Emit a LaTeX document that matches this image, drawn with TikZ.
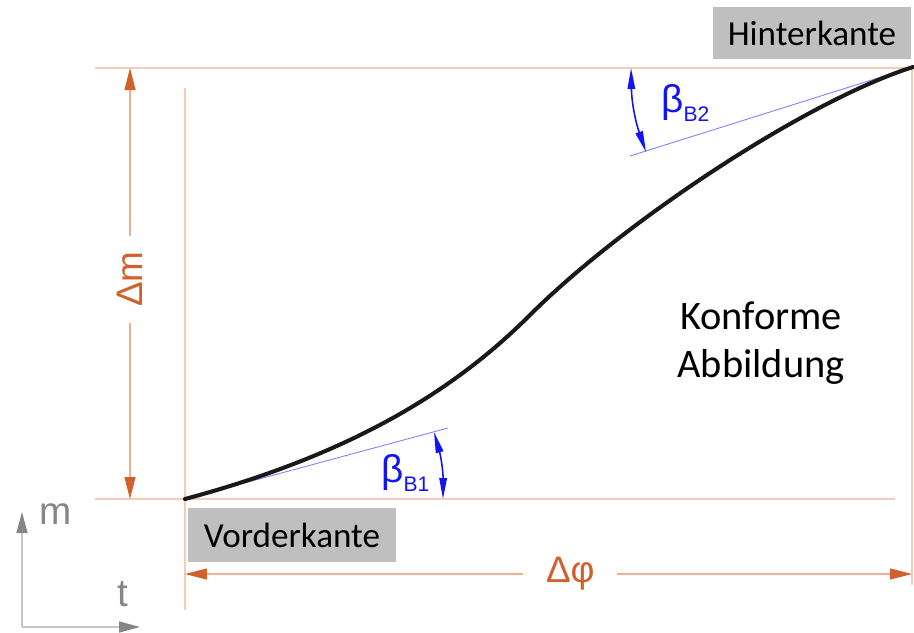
\documentclass[tikz,border=0pt]{standalone}
\usepackage{fontspec}
\usepackage{tikz}
\usetikzlibrary{arrows.meta}

\newfontfamily\calibrifont{Carlito}
\newfontfamily\arialfont{Liberation Sans}

\definecolor{dimorange}{HTML}{D2602A}
\definecolor{dimlight}{HTML}{EDB090}
\definecolor{peach}{HTML}{F4CDB6}
\definecolor{angleblue}{HTML}{1414F0}
\definecolor{tangblue}{HTML}{8080FF}
\definecolor{axisgray}{HTML}{C6C6C6}
\definecolor{tipgray}{HTML}{868686}
\definecolor{boxgray}{HTML}{BFBFBF}

\tikzset{
  helpline/.style={peach, line width=0.8pt},
  dimline/.style={dimlight, line width=0.6pt,
    {Triangle[length=0.44cm, width=0.22cm, color=dimorange]}-{Triangle[length=0.44cm, width=0.22cm, color=dimorange]}},
  dimlabel/.style={fill=white, text=dimorange, font=\arialfont\fontsize{21}{24}\selectfont},
  axisline/.style={axisgray, line width=0.9pt, -{Triangle[length=0.42cm, width=0.22cm, color=tipgray]}},
  axislabel/.style={text=tipgray, font=\arialfont\fontsize{22}{26}\selectfont},
  tangent/.style={tangblue, line width=0.5pt},
  anglearrow/.style={angleblue, line width=0.9pt,
    {Triangle[length=0.42cm, width=0.15cm]}-{Triangle[length=0.42cm, width=0.15cm]}},
  anglelabel/.style={text=angleblue, inner sep=0pt, anchor=base west},
  edgebox/.style={fill=boxgray, font=\calibrifont\fontsize{20}{24}\selectfont},
  profile/.style={black!90, line width=2.3pt, line cap=round}
}

\begin{document}
\begin{tikzpicture}[x=0.02cm, y=-0.02cm]
  \useasboundingbox (0,0) rectangle (914,633);

  % Hilfslinien
  \coordinate (tl) at (95,68);
  \coordinate (tr) at (914,68);
  \coordinate (bl) at (95,499);
  \coordinate (br) at (895,499);
  \coordinate (lt) at (185,88);
  \coordinate (lb) at (185,610);
  \coordinate (rt) at (912,68);
  \coordinate (rb) at (912,585);
  \draw[helpline] (tl) -- (tr);
  \draw[helpline] (bl) -- (br);
  \draw[helpline] (lt) -- (lb);
  \draw[helpline] (rt) -- (rb);

  % Bemassung
  \coordinate (dmt) at (130,68);
  \coordinate (dmb) at (130,499);
  \coordinate (dpl) at (185,574);
  \coordinate (dpr) at (912,574);
  \draw[dimline] (dmb) -- (dmt)
    node[dimlabel, pos=0.51, rotate=90, inner xsep=9pt] (dm) {Δm};
  \draw[dimline] (dpl) -- (dpr)
    node[dimlabel, pos=0.53, inner xsep=13pt] (dphi) {Δφ};

  % Achsen
  \coordinate (o) at (22,627);
  \coordinate (ym) at (22,512);
  \coordinate (xt) at (140,627);
  \draw[axisline] (o) -- (ym);
  \draw[axisline] (o) -- (xt);
  \node[axislabel] (m) at (56,514) {m};
  \node[axislabel] (t) at (123,594) {t};

  % Tangenten und Winkel
  \coordinate (le) at (185,499);
  \coordinate (te) at (913,67);
  \coordinate (tb) at (448,428);
  \coordinate (tt) at (630,156);
  \draw[tangent] (le) -- (tb);
  \draw[tangent] (tt) -- (te);

  \coordinate (b1a) at (434,432);
  \coordinate (b1b) at (443,499);
  \coordinate (b2a) at (631,68);
  \coordinate (b2b) at (646,152);
  \draw[anglearrow] (b1a) to[bend left=8] (b1b);
  \draw[anglearrow] (b2a) to[bend right=9] (b2b);

  \node[anglelabel] (beta1) at (381,482)
    {{\arialfont\fontsize{22}{26}\selectfont β}{\arialfont\fontsize{12}{14}\selectfont\raisebox{-5.5pt}{B1}}};
  \node[anglelabel] (beta2) at (661,112)
    {{\arialfont\fontsize{22}{26}\selectfont β}{\arialfont\fontsize{12}{14}\selectfont\raisebox{-5.5pt}{B2}}};

  % Profil
  \coordinate (wp) at (530,315);
  \draw[profile] (le) .. controls (345,456) and (450,395) .. (wp)
                      .. controls (620,225) and (803,102) .. (te);

  % Beschriftung
  \node[edgebox, minimum width=3.98cm, minimum height=1.04cm] (hk) at (812,33) {Hinterkante};
  \node[edgebox, minimum width=4.18cm, minimum height=1.08cm] (vk) at (292,535) {Vorderkante};
  \node[font=\calibrifont\fontsize{23}{27}\selectfont, align=center] (ka) at (761,343)
    {Konforme\\Abbildung};
\end{tikzpicture}
\end{document}
